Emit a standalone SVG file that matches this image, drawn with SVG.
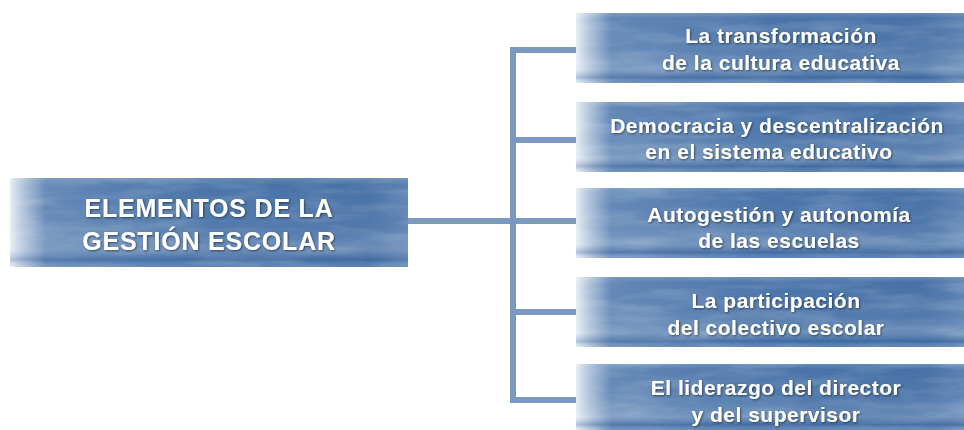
<svg xmlns="http://www.w3.org/2000/svg" width="964" height="430" viewBox="0 0 964 430">
<defs>
<linearGradient id="gH" x1="0" y1="0" x2="1" y2="0">
<stop offset="0" stop-color="#e6ecf4"/>
<stop offset="0.03" stop-color="#b4c6dc"/>
<stop offset="0.09" stop-color="#6287b6"/>
<stop offset="0.5" stop-color="#4a74a9"/>
<stop offset="0.9" stop-color="#4872a7"/>
<stop offset="1" stop-color="#5b81b2"/>
</linearGradient>
<linearGradient id="gV" x1="0" y1="0" x2="0" y2="1">
<stop offset="0" stop-color="#ffffff" stop-opacity="0.15"/>
<stop offset="0.08" stop-color="#ffffff" stop-opacity="0"/>
<stop offset="0.55" stop-color="#ffffff" stop-opacity="0.05"/>
<stop offset="0.8" stop-color="#ffffff" stop-opacity="0.18"/>
<stop offset="0.92" stop-color="#1f4f8c" stop-opacity="0.25"/>
<stop offset="1" stop-color="#ffffff" stop-opacity="0.1"/>
</linearGradient>
<filter id="noise" x="0" y="0" width="100%" height="100%">
<feTurbulence type="fractalNoise" baseFrequency="0.015 0.09" numOctaves="4" seed="7" result="t"/>
<feColorMatrix in="t" type="matrix" values="0 0 0 0 1  0 0 0 0 1  0 0 0 0 1  0 0 0 1 -0.4" result="w"/>
<feComposite in="w" in2="SourceGraphic" operator="in"/>
</filter>
<filter id="ts" x="-5%" y="-20%" width="110%" height="140%">
<feGaussianBlur in="SourceAlpha" stdDeviation="1"/>
<feOffset dx="0.5" dy="0.5"/>
<feComponentTransfer><feFuncA type="linear" slope="0.5"/></feComponentTransfer>
<feMerge><feMergeNode/><feMergeNode in="SourceGraphic"/></feMerge>
</filter>
</defs>
<style>
.box{fill:url(#gH);}
.ov{fill:url(#gV);}
.nz{fill:#ffffff;filter:url(#noise);opacity:0.35;}
.t{font-family:"Liberation Sans",Arial,sans-serif;font-weight:bold;fill:#ffffff;text-anchor:middle;filter:url(#ts);}
.ts{font-size:21px;letter-spacing:0.5px;}
.tl{font-size:25px;letter-spacing:0.8px;}
.c{stroke:#7b98c0;stroke-width:6;fill:none;stroke-linecap:square;}
</style>
<g id="connectors">
<path class="c" d="M513 50 V400"/>
<path class="c" d="M411 221 H513"/>
<path class="c" d="M513 50 H574"/>
<path class="c" d="M513 140 H574"/>
<path class="c" d="M513 221 H574"/>
<path class="c" d="M513 312 H574"/>
<path class="c" d="M513 400 H574"/>
</g>
<g id="root">
<rect class="box" x="10" y="178" width="398" height="89"/>
<rect class="nz" x="10" y="178" width="398" height="89"/>
<rect class="ov" x="10" y="178" width="398" height="89"/>
<text class="t tl" x="209" y="217">ELEMENTOS DE LA</text>
<text class="t tl" x="209" y="250">GESTIÓN ESCOLAR</text>
</g>
<g id="n1">
<rect class="box" x="576" y="13" width="388" height="70"/>
<rect class="nz" x="576" y="13" width="388" height="70"/>
<rect class="ov" x="576" y="13" width="388" height="70"/>
<text class="t ts" x="781" y="43">La transformación</text>
<text class="t ts" x="781" y="70">de la cultura educativa</text>
</g>
<g id="n2">
<rect class="box" x="576" y="102" width="388" height="70"/>
<rect class="nz" x="576" y="102" width="388" height="70"/>
<rect class="ov" x="576" y="102" width="388" height="70"/>
<text class="t ts" x="777" y="133">Democracia y descentralización</text>
<text class="t ts" x="769" y="159">en el sistema educativo</text>
</g>
<g id="n3">
<rect class="box" x="576" y="188" width="388" height="70"/>
<rect class="nz" x="576" y="188" width="388" height="70"/>
<rect class="ov" x="576" y="188" width="388" height="70"/>
<text class="t ts" x="779" y="222">Autogestión y autonomía</text>
<text class="t ts" x="779" y="248">de las escuelas</text>
</g>
<g id="n4">
<rect class="box" x="576" y="277" width="388" height="70"/>
<rect class="nz" x="576" y="277" width="388" height="70"/>
<rect class="ov" x="576" y="277" width="388" height="70"/>
<text class="t ts" x="776" y="308">La participación</text>
<text class="t ts" x="776" y="335">del colectivo escolar</text>
</g>
<g id="n5">
<rect class="box" x="576" y="364" width="388" height="66"/>
<rect class="nz" x="576" y="364" width="388" height="66"/>
<rect class="ov" x="576" y="364" width="388" height="66"/>
<text class="t ts" x="776" y="395">El liderazgo del director</text>
<text class="t ts" x="776" y="422">y del supervisor</text>
</g>
</svg>
